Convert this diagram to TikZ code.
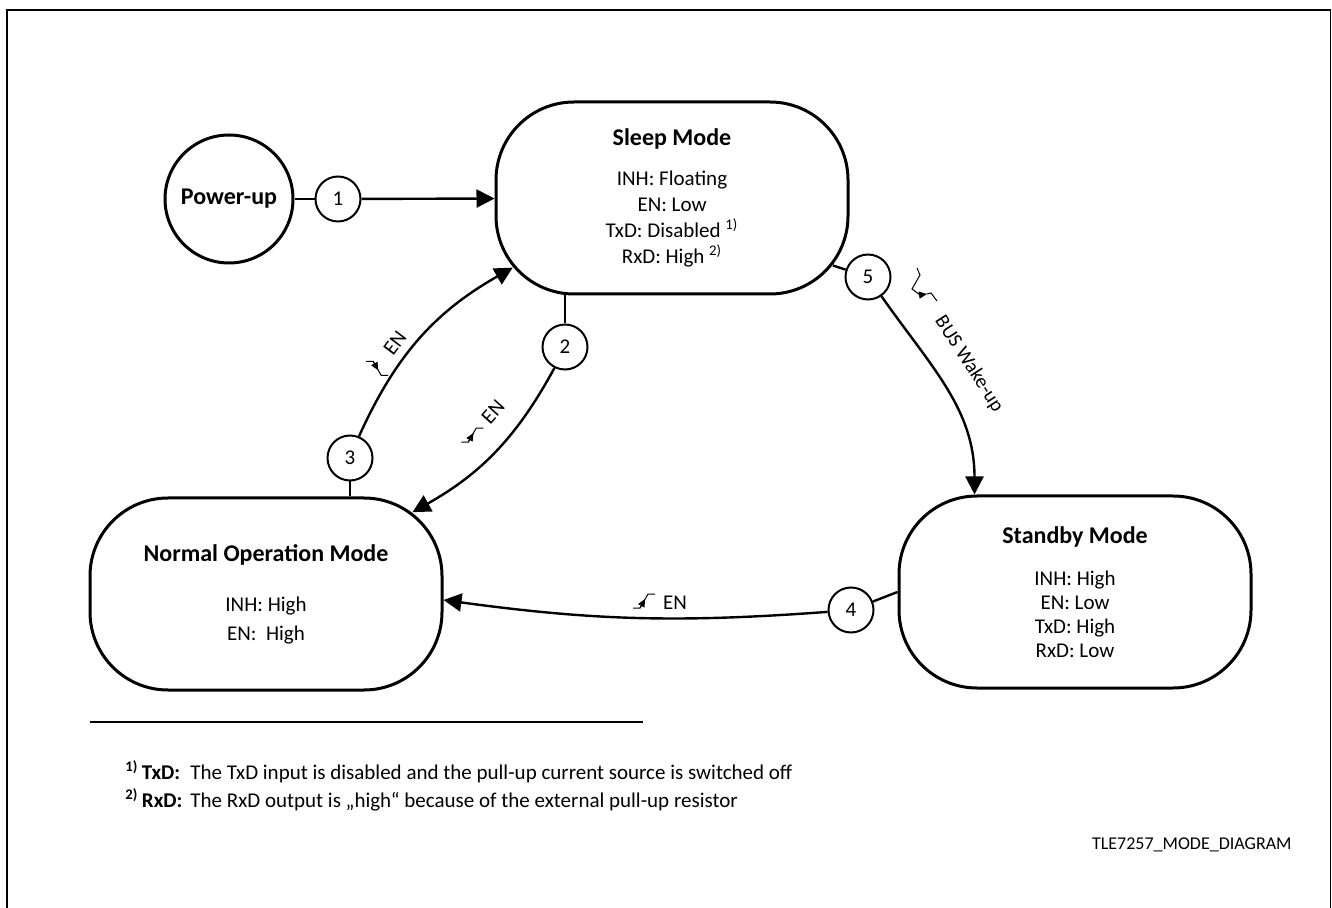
\documentclass[tikz,border=0pt]{standalone}
\usepackage{fontspec}
\setmainfont{Carlito}
\usepackage{tikz}
\usetikzlibrary{arrows.meta, calc}

\newcommand{\modetitle}[1]{{\fontsize{12}{14}\selectfont\bfseries #1}}

\tikzset{
  modebox/.style={draw, line width=1.5pt, rounded corners=39pt, minimum width=176pt, minimum height=96pt, inner sep=0pt, align=center, font=\fontsize{10.5}{13}\selectfont},
  numcirc/.style={draw, circle, line width=1pt, minimum size=22.5pt, inner sep=0pt, font=\fontsize{10.5}{13}\selectfont},
  conn/.style={line width=1.2pt},
  arr/.style={conn, -{Triangle[length=9pt, width=9pt]}},
  sig/.style={line width=0.5pt},
  lbl/.style={inner sep=0pt, font=\fontsize{10.5}{13}\selectfont},
  fnote/.style={inner sep=0pt, font=\fontsize{10.5}{13}\selectfont},
  risesig/.pic={
    \draw[sig] (-11,-7) -- (-4,-7) -- (4,7) -- (11,7);
    \draw[sig, -{Triangle[length=4pt, width=3.5pt]}] (-4,-7) -- (1.2,2.1);
  },
  fallsig/.pic={
    \draw[sig] (-11,7) -- (-4,7) -- (4,-7) -- (11,-7);
    \draw[sig, -{Triangle[length=4pt, width=3.5pt]}] (-4,7) -- (1.2,-2.1);
  },
}

\begin{document}
\begin{tikzpicture}[x=0.5pt, y=0.5pt]
\useasboundingbox (0,0) rectangle (1332,-908);
\draw[line width=0.75pt] (7,-910) -- (7,-10) -- (1330.5,-10) -- (1330.5,-910);

\node[draw, circle, line width=1.5pt, minimum size=64pt, inner sep=0pt, font=\fontsize{12}{14}\selectfont\bfseries] (power) at (229,-199) {Power-up};
\node[modebox] (sleep) at (672,-198) {\modetitle{Sleep Mode}\\[7pt]
  INH: Floating\\ EN: Low\\ TxD: Disabled \textsuperscript{1)}\\ RxD: High \textsuperscript{2)}};
\node[modebox] (normal) at (266,-594) {\modetitle{Normal Operation Mode}\\[12pt]
  INH: High\\[1.5pt] EN:~ High};
\node[modebox] (standby) at (1075,-592) {\modetitle{Standby Mode}\\[8pt]
  INH: High\\[-1pt] EN: Low\\[-1pt] TxD: High\\[-1pt] RxD: Low};

\node[numcirc] (c1) at (338,-199) {1};
\node[numcirc] (c2) at (565,-347) {2};
\node[numcirc] (c3) at (350,-458) {3};
\node[numcirc] (c4) at (851,-610) {4};
\node[numcirc] (c5) at (868,-277) {5};

\path (sleep.south west) ++(78,78) ++(220:78) coordinate (sleep-sw);
\path (sleep.south east) ++(-78,78) ++(-38:78) coordinate (sleep-se);
\path (normal.north east) ++(-78,-78) ++(53:78) coordinate (normal-ne);
\coordinate (normal-e) at ($(normal.east)+(0,-6)$);
\coordinate (standby-in) at ($(standby.north west)+(77,0)$);

\draw[conn] (power) -- (c1);
\draw[arr] (c1) -- (sleep);
\draw[conn] (c2) -- (c2 |- sleep.south);
\draw[arr] (c2) to[bend left=16] (normal-ne);
\draw[conn] (c3) -- (c3 |- normal.north);
\draw[arr] (c3) to[bend left=18] (sleep-sw);
\draw[conn] (c4) -- (standby.west);
\draw[arr] (c4) to[bend left=6] (normal-e);
\draw[conn] (sleep-se) -- (c5);
\draw[arr] (c5) to[out=-55, in=90] (standby-in);

\node[lbl] (en4) at (675,-603) {EN};
\pic at (644,-601) {risesig};
\begin{scope}[shift={(493,-412)}, rotate=48]
  \node[lbl, rotate=48] (en2) at (0,0) {EN};
  \pic at (-31,0) {risesig};
\end{scope}
\begin{scope}[shift={(395,-343)}, rotate=53]
  \node[lbl, rotate=53] (en3) at (0,0) {EN};
  \pic at (-31,-1) {fallsig};
\end{scope}
\node[lbl, rotate=-57, font=\fontsize{10}{12}\selectfont] (wake) at (969,-364) {BUS Wake-up};
\draw[sig] (917,-268) -- (920,-275) -- (912,-289) -- (920,-295);
\draw[sig, -{Triangle[length=4pt, width=3.5pt]}] (920,-295) -- (927,-294);
\draw[sig] (927,-294) -- (931,-293) -- (937,-301);

\draw[line width=0.6pt] (90,-722) -- (643,-722);
\node[fnote, anchor=base west] (fn1l) at (125,-779) {\textsuperscript{\bfseries 1)}\,\textbf{TxD:}};
\node[fnote, anchor=base west] (fn1) at (190,-779) {The TxD input is disabled and the pull-up current source is switched off};
\node[fnote, anchor=base west] (fn2l) at (125,-807) {\textsuperscript{\bfseries 2)}\,\textbf{RxD:}};
\node[fnote, anchor=base west] (fn2) at (190,-807) {The RxD output is „high“ because of the external pull-up resistor};
\node[inner sep=0pt, anchor=base east, font=\fontsize{9}{11}\selectfont] (tag) at (1292,-849) {TLE7257\_MODE\_DIAGRAM};
\end{tikzpicture}
\end{document}
